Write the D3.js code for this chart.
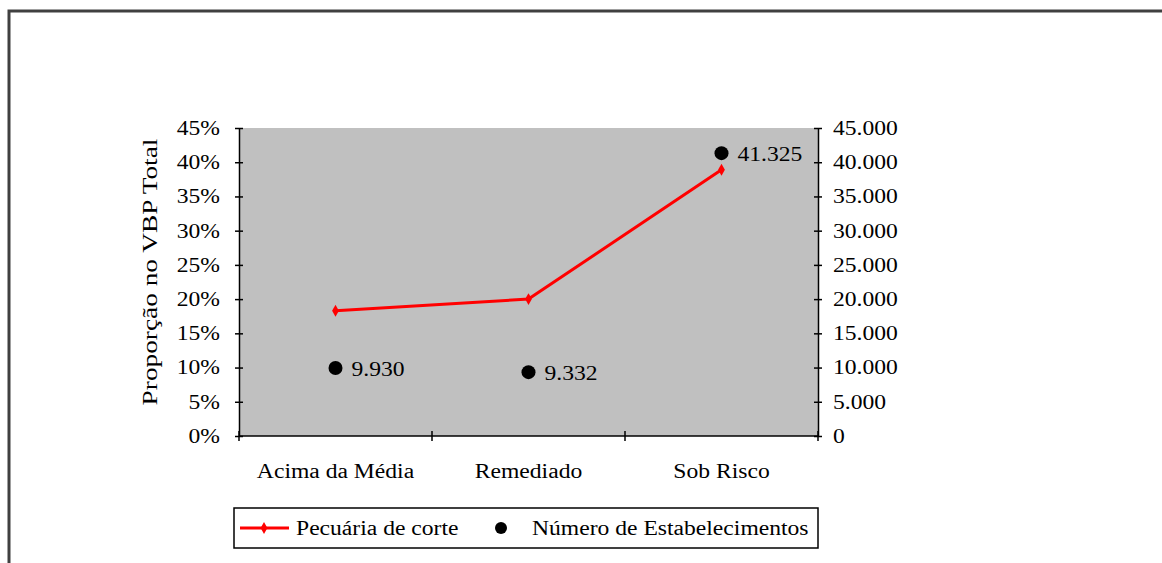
<!DOCTYPE html>
<html>
  <head>
    <meta charset="utf-8">
    <title>Pecuária de corte</title>
    <style>
      body { margin: 0; background: #fff; }
      svg { display: block; }
      text { font-family: "Liberation Serif", "Times New Roman", serif; fill: #000; }
      .axis path, .axis line { stroke: #000; stroke-width: 1.5; }
    </style>
    <script src="https://cdnjs.cloudflare.com/ajax/libs/d3/7.8.5/d3.min.js"></script>
  </head>
  <body>
    <svg id="chart" width="1162" height="563"></svg>
    <script>
      var categories = ["Acima da Média", "Remediado", "Sob Risco"];
      var proporcao = [0.183, 0.200, 0.389];
      var estabelecimentos = [9930, 9332, 41325];
      var leftTicks = [0, 0.05, 0.10, 0.15, 0.20, 0.25, 0.30, 0.35, 0.40, 0.45];
      var rightTicks = [0, 5000, 10000, 15000, 20000, 25000, 30000, 35000, 40000, 45000];

      var svg = d3.select("#chart");
      var plotLeft = 239, plotRight = 818, plotTop = 128, plotBottom = 436;
      var fontSize = 20;
      var sx = 1.18; // horizontal stretch of the original bitmap text

      var ptBR = d3.formatLocale({decimal: ",", thousands: ".", grouping: [3], currency: ["R$", ""]});
      var fmtNum = ptBR.format(",d");
      var fmtPct = d3.format(".0%");

      // outer frame
      svg.append("rect")
         .attr("x", 9).attr("y", 11)
         .attr("width", 1200).attr("height", 600)
         .attr("fill", "none").attr("stroke", "#404040").attr("stroke-width", 3);

      var x = d3.scaleBand().domain(categories).range([plotLeft, plotRight]);
      var yL = d3.scaleLinear().domain([0, 0.45]).range([plotBottom, plotTop]);
      var yR = d3.scaleLinear().domain([0, 45000]).range([plotBottom, plotTop]);

      // plot area
      svg.append("rect")
         .attr("x", plotLeft).attr("y", plotTop)
         .attr("width", plotRight - plotLeft).attr("height", plotBottom - plotTop)
         .attr("fill", "#c0c0c0");

      function stretch(sel, k) {
        k = k || sx;
        sel.each(function() {
          var w = this.getComputedTextLength();
          d3.select(this).attr("textLength", w * k).attr("lengthAdjust", "spacingAndGlyphs");
        });
      }

      // left axis
      var gL = svg.append("g").attr("class", "axis")
                  .attr("transform", "translate(" + plotLeft + ",0)")
                  .call(d3.axisLeft(yL).tickValues(leftTicks).tickFormat(fmtPct).tickSize(5).tickSizeOuter(0).tickPadding(14));
      gL.selectAll(".tick line").attr("x1", 4).attr("x2", -4);
      gL.selectAll("text").attr("font-size", fontSize).attr("font-family", null).call(stretch);

      // right axis
      var gR = svg.append("g").attr("class", "axis")
                  .attr("transform", "translate(" + plotRight + ",0)")
                  .call(d3.axisRight(yR).tickValues(rightTicks).tickFormat(fmtNum).tickSize(5).tickSizeOuter(0).tickPadding(10));
      gR.selectAll(".tick line").attr("x1", -4).attr("x2", 4);
      gR.selectAll("text").attr("font-size", fontSize).attr("font-family", null).call(stretch);

      // bottom axis
      var gB = svg.append("g").attr("class", "axis")
                  .attr("transform", "translate(0," + plotBottom + ")");
      gB.append("line").attr("x1", plotLeft).attr("x2", plotRight).attr("y1", 0).attr("y2", 0);
      var bounds = [plotLeft].concat(categories.map(function(c) { return x(c) + x.bandwidth(); }));
      gB.selectAll(".btick").data(bounds).enter().append("line")
        .attr("x1", function(d) { return d; }).attr("x2", function(d) { return d; })
        .attr("y1", -5).attr("y2", 5);
      gB.selectAll(".blabel").data(categories).enter().append("text")
        .attr("x", function(d) { return x(d) + x.bandwidth() / 2; })
        .attr("y", 42)
        .attr("text-anchor", "middle")
        .attr("font-size", fontSize)
        .text(function(d) { return d; })
        .call(stretch);

      // y title
      svg.append("text")
         .attr("transform", "translate(157,272) rotate(-90)")
         .attr("text-anchor", "middle")
         .attr("font-size", 21)
         .text("Proporção no VBP Total")
         .call(stretch, 1.3);

      // red line
      var pts = categories.map(function(c, i) { return [x(c) + x.bandwidth() / 2, yL(proporcao[i])]; });
      svg.append("path")
         .attr("d", d3.line()(pts))
         .attr("fill", "none").attr("stroke", "#ff0000").attr("stroke-width", 3);
      svg.selectAll(".rmark").data(pts).enter().append("path")
         .attr("transform", function(d) { return "translate(" + d[0] + "," + d[1] + ")"; })
         .attr("d", d3.symbol().type(d3.symbolDiamond).size(40))
         .attr("fill", "#ff0000");

      // black dots
      svg.selectAll(".dot").data(estabelecimentos).enter().append("circle")
         .attr("cx", function(d, i) { return x(categories[i]) + x.bandwidth() / 2; })
         .attr("cy", function(d) { return yR(d); })
         .attr("r", 7)
         .attr("fill", "#000");
      svg.selectAll(".dlabel").data(estabelecimentos).enter().append("text")
         .attr("x", function(d, i) { return x(categories[i]) + x.bandwidth() / 2 + 16; })
         .attr("y", function(d) { return yR(d) + 8; })
         .attr("font-size", fontSize)
         .text(function(d) { return fmtNum(d); })
         .call(stretch);

      // legend
      var lg = svg.append("g");
      lg.append("rect").attr("x", 234).attr("y", 508).attr("width", 584).attr("height", 40)
        .attr("fill", "#fff").attr("stroke", "#000").attr("stroke-width", 1.5);
      lg.append("line").attr("x1", 240).attr("x2", 289).attr("y1", 528).attr("y2", 528)
        .attr("stroke", "#ff0000").attr("stroke-width", 3);
      lg.append("path").attr("transform", "translate(264,528)")
        .attr("d", d3.symbol().type(d3.symbolDiamond).size(40)).attr("fill", "#ff0000");
      lg.append("text").attr("x", 296).attr("y", 535).attr("font-size", fontSize)
        .text("Pecuária de corte").call(stretch);
      lg.append("circle").attr("cx", 501).attr("cy", 528).attr("r", 6).attr("fill", "#000");
      lg.append("text").attr("x", 532).attr("y", 535).attr("font-size", fontSize)
        .text("Número de Estabelecimentos").call(stretch);
    </script>
  </body>
</html>
